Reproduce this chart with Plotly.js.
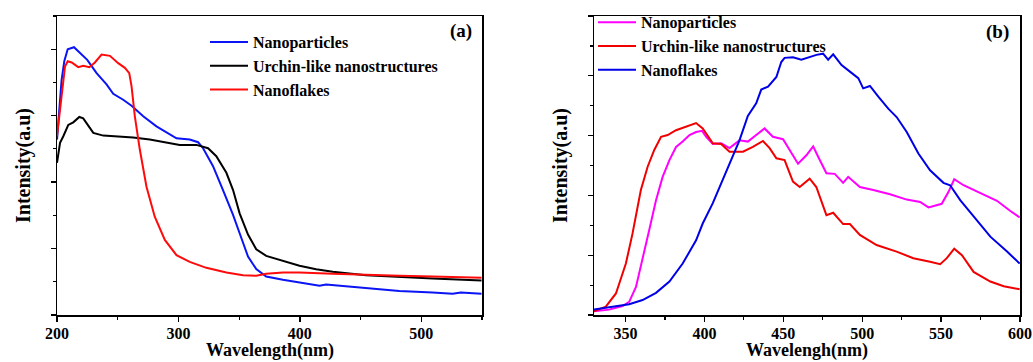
<!DOCTYPE html>
<html>
<head>
<meta charset="utf-8">
<script src="https://cdn.plot.ly/plotly-3.0.1.min.js"></script>
<style>html,body{margin:0;padding:0;background:#fff;}#chart{width:1033px;height:362px;}</style>
</head>
<body>
<div id="chart"></div>
<script>
// ---- Panel (a): absorption ----
const aNanoparticlesX = [200,203.8,206,208.8,214,218.9,224.9,232.6,240.8,246.3,254.5,261.4,271,281.9,290,298.4,309.3,316.2,320.3,328.5,336.7,344.9,350.4,357.3,364.1,372.3,386,399.7,416.2,421.6,440.8,454.5,481.9,509.3,525.8,532.6,549.6];
const aNanoparticlesY = [2.64,3.54,3.82,4.0,4.03,3.94,3.84,3.64,3.47,3.33,3.24,3.15,2.99,2.84,2.75,2.66,2.64,2.60,2.51,2.24,1.88,1.51,1.23,0.88,0.69,0.58,0.53,0.49,0.44,0.46,0.43,0.40,0.36,0.34,0.32,0.34,0.32];

const aUrchinX = [200,202.5,205.2,209.3,213.4,218.4,221.6,225.8,229.9,238.1,249,262.7,276.4,290.1,301.1,314.8,324.4,331.2,339.5,345,350.4,357.3,364.1,372.3,386,399.7,413.4,427.1,454.5,481.9,509.3,549.6];
const aUrchinY = [2.29,2.59,2.69,2.86,2.90,2.98,2.96,2.84,2.74,2.70,2.69,2.67,2.64,2.60,2.56,2.56,2.51,2.39,2.14,1.88,1.53,1.21,0.99,0.89,0.81,0.74,0.69,0.65,0.60,0.57,0.55,0.52];

const aFlakesX = [200,203.8,206.6,208.8,212.1,217.5,221.6,226.6,231.2,236.7,243.6,250.4,255.9,259.5,261.4,264.1,268.2,273.7,280.5,288.8,298.4,309.3,323,339.5,353.2,364.1,372.3,386,399.7,427.1,454.5,481.9,509.3,549.6];
const aFlakesY = [2.69,3.34,3.74,3.82,3.80,3.73,3.75,3.73,3.80,3.92,3.90,3.79,3.72,3.64,3.44,2.99,2.49,1.93,1.48,1.13,0.90,0.80,0.71,0.64,0.60,0.59,0.62,0.64,0.64,0.62,0.60,0.59,0.58,0.56];

// ---- Panel (b): photoluminescence ----
const bNanoparticlesX = [329.7,339.6,348.1,352.3,356.6,360.8,365,369.3,373.5,377.8,382,386.2,390.5,394.7,398.5,401.1,405.3,410.6,415.9,422.2,427.5,432.8,438.1,443.4,449.8,454,459.3,464.6,468.9,472,477.3,482.6,487.9,491.1,498.5,507,517.6,528.2,536.7,542,550.4,554.7,558.3,564.2,574.8,585.4,593.9,599.8];
const bNanoparticlesY = [0.06,0.09,0.15,0.22,0.47,0.92,1.42,1.92,2.31,2.59,2.81,2.90,3.01,3.06,3.08,2.98,2.86,2.87,2.79,2.92,2.90,3.01,3.12,2.98,2.94,2.76,2.53,2.67,2.82,2.65,2.37,2.36,2.21,2.31,2.14,2.09,2.02,1.93,1.89,1.80,1.86,2.06,2.27,2.17,2.04,1.91,1.74,1.63];

const bUrchinX = [329.7,337.5,343.9,350.2,354.4,359.7,364,368.2,372.5,376.7,382,388.3,394.7,398.9,405.3,410.6,415.9,424.4,430.7,437.1,441.3,445.6,450.8,456.1,460.4,466.7,470.9,477.3,481.6,487.9,492.2,498.5,509.1,521.8,532.4,543,549.4,553.6,558.3,563.2,570.6,581.2,589.7,599.8];
const bUrchinY = [0.06,0.14,0.36,0.86,1.36,2.09,2.48,2.76,2.98,3.01,3.09,3.15,3.21,3.12,2.87,2.86,2.73,2.73,2.81,2.91,2.79,2.62,2.59,2.23,2.14,2.28,2.14,1.67,1.71,1.52,1.52,1.34,1.17,1.06,0.95,0.89,0.85,0.95,1.11,1.00,0.72,0.56,0.48,0.43];

const bFlakesX = [329.7,341.7,352.3,360.8,369.3,377.8,386.2,394.7,398.9,405.3,411.7,417,422.2,427.5,432.8,436,440.3,445.6,448.7,450.8,456.1,461.4,465.7,471,475.2,478.4,481.6,486.9,492.2,497.5,500.6,504.9,510.2,516.5,521.8,528.2,535.6,543,551.5,555.7,562.1,570.6,581.2,591.8,599.8];
const bFlakesY = [0.09,0.14,0.18,0.25,0.37,0.56,0.86,1.25,1.53,1.87,2.26,2.59,2.92,3.33,3.54,3.77,3.82,3.98,4.23,4.30,4.31,4.27,4.31,4.35,4.37,4.27,4.36,4.18,4.07,3.96,3.79,3.83,3.65,3.45,3.31,3.06,2.70,2.42,2.21,2.17,1.92,1.64,1.31,1.06,0.86];

const seriesNames = ['Nanoparticles','Urchin-like nanostructures','Nanoflakes'];
const xTitleA = 'Wavelength(nm)';
const xTitleB = 'Wavelengh(nm)';
const yTitle = 'Intensity(a.u)';
const panelLabels = ['(a)','(b)'];

const SERIF = '"Liberation Serif", "Times New Roman", serif';
const lw = 2;

const traces = [
  {x:aNanoparticlesX, y:aNanoparticlesY, name:seriesNames[0], xaxis:'x', yaxis:'y', legend:'legend', legendgroup:'a1', mode:'lines', line:{color:'#0a14f5', width:lw}},
  {x:aUrchinX, y:aUrchinY, name:seriesNames[1], xaxis:'x', yaxis:'y', legend:'legend', legendgroup:'a2', mode:'lines', line:{color:'#000000', width:lw}},
  {x:aFlakesX, y:aFlakesY, name:seriesNames[2], xaxis:'x', yaxis:'y', legend:'legend', legendgroup:'a3', mode:'lines', line:{color:'#ff0a0a', width:lw}},
  {x:bNanoparticlesX, y:bNanoparticlesY, name:seriesNames[0], xaxis:'x2', yaxis:'y2', legend:'legend2', mode:'lines', line:{color:'#ff00ff', width:lw}},
  {x:bUrchinX, y:bUrchinY, name:seriesNames[1], xaxis:'x2', yaxis:'y2', legend:'legend2', mode:'lines', line:{color:'#f00000', width:lw}},
  {x:bFlakesX, y:bFlakesY, name:seriesNames[2], xaxis:'x2', yaxis:'y2', legend:'legend2', mode:'lines', line:{color:'#0000e6', width:lw}}
];

function xaxisCfg(domain, range, dtick){
  return {
    domain:domain, range:range, dtick:dtick, tick0:0,
    showline:true, mirror:true, linecolor:'#000', linewidth:1.5,
    ticks:'outside', ticklen:5, tickwidth:1.3, tickcolor:'#000',
    minor:{dtick:dtick/2, ticks:'outside', ticklen:3, tickwidth:1.2, tickcolor:'#000', showgrid:false},
    showgrid:false, zeroline:false, ticklabelstandoff:-2,
    tickfont:{family:SERIF, size:16, color:'#000', weight:'bold'}
  };
}
function yaxisCfg(anchor, range){
  return {
    anchor:anchor, domain:[0,1], range:range, dtick:1, tick0:0,
    showline:true, mirror:true, linecolor:'#000', linewidth:1.5,
    ticks:'outside', ticklen:5, tickwidth:1.3, tickcolor:'#000',
    minor:{dtick:0.5, ticks:'outside', ticklen:3, tickwidth:1.2, tickcolor:'#000', showgrid:false},
    showticklabels:false, showgrid:false, zeroline:false,
    title:{text:yTitle, font:{family:SERIF, size:20, color:'#000', weight:'bold'}, standoff:14}
  };
}

const legendFont = {family:SERIF, size:16, color:'#000', weight:'bold'};
const titleFont = {family:SERIF, size:18, color:'#000', weight:'bold'};

const layout = {
  width:1033, height:362,
  margin:{l:0, r:0, t:16, b:47},
  paper_bgcolor:'#fff', plot_bgcolor:'#fff',
  font:{family:SERIF, size:16, color:'#000', weight:'bold'},
  showlegend:true,
  xaxis:Object.assign(xaxisCfg([57/1033, 482/1033], [200,550], 100), {anchor:'y'}),
  yaxis:yaxisCfg('x', [0,4.5]),
  xaxis2:Object.assign(xaxisCfg([594/1033, 1020/1033], [330,600], 50), {anchor:'y2'}),
  yaxis2:yaxisCfg('x2', [0,5]),
  legend:{x:205/1033, y:1-11/362, xanchor:'left', yanchor:'top', bgcolor:'rgba(0,0,0,0)', font:legendFont, tracegroupgap:3, traceorder:'normal', itemwidth:38},
  legend2:{x:593/1033, y:1+13/362, xanchor:'left', yanchor:'top', bgcolor:'rgba(0,0,0,0)', font:legendFont, tracegroupgap:0, traceorder:'normal', itemwidth:38},
  annotations:[
    {text:panelLabels[0], xref:'x domain', yref:'y domain', x:0.98, y:0.95, xanchor:'right', yanchor:'middle', showarrow:false, font:{family:SERIF, size:19, color:'#000', weight:'bold'}},
    {text:panelLabels[1], xref:'x2 domain', yref:'y2 domain', x:0.98, y:0.945, xanchor:'right', yanchor:'middle', showarrow:false, font:{family:SERIF, size:19, color:'#000', weight:'bold'}},
    // x-axis titles (placed just below the tick labels, flush with the bottom edge)
    {text:xTitleA, xref:'x domain', yref:'paper', x:0.5, y:-0.157, xanchor:'center', yanchor:'bottom', showarrow:false, borderpad:0, font:titleFont},
    {text:xTitleB, xref:'x2 domain', yref:'paper', x:0.5, y:-0.157, xanchor:'center', yanchor:'bottom', showarrow:false, borderpad:0, font:titleFont}
  ]
};

Plotly.newPlot('chart', traces, layout, {displayModeBar:false, staticPlot:true});
</script>
</body>
</html>
